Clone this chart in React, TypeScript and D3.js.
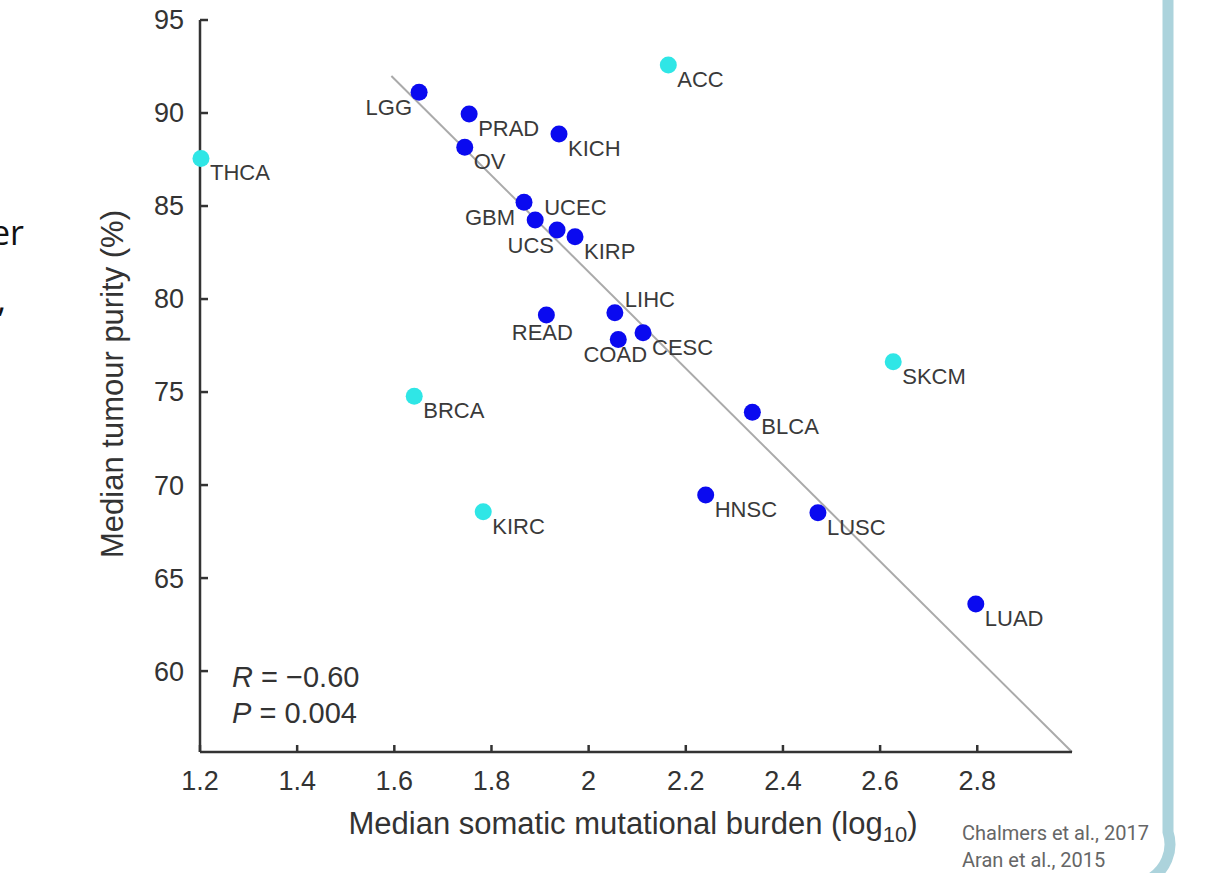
import React from 'react'
import * as d3 from 'd3'

// cancer types, median log10 mutational burden, median tumour purity
const types = ['THCA', 'LGG', 'PRAD', 'OV', 'KICH', 'ACC', 'GBM', 'UCEC', 'UCS', 'KIRP', 'READ', 'LIHC', 'COAD', 'CESC', 'BRCA', 'KIRC', 'BLCA', 'HNSC', 'LUSC', 'LUAD', 'SKCM']
const burden = [1.202, 1.651, 1.754, 1.745, 1.939, 2.164, 1.867, 1.89, 1.935, 1.972, 1.913, 2.054, 2.061, 2.112, 1.641, 1.783, 2.337, 2.241, 2.472, 2.797, 2.627]
const purity = [87.56, 91.11, 89.95, 88.16, 88.87, 92.58, 85.2, 84.25, 83.71, 83.35, 79.14, 79.26, 77.83, 78.19, 74.78, 68.56, 73.91, 69.46, 68.51, 63.6, 76.63]
// outliers drawn in cyan
const outliers = ['THCA', 'ACC', 'BRCA', 'KIRC', 'SKCM']

const xTicks = [1.2, 1.4, 1.6, 1.8, 2, 2.2, 2.4, 2.6, 2.8]
const yTicks = [60, 65, 70, 75, 80, 85, 90, 95]

// fitted line end points
const fitX = [1.594, 2.995]
const fitY = [91.99, 55.65]

const stats = [
  { k: 'R', v: '\u22120.60' },
  { k: 'P', v: '0.004' }
]
const refs = ['Chalmers et al., 2017', 'Aran et al., 2015']

// label placement: [dx, dy, anchor]
const place: Record<string, [number, number, string]> = {
  LGG: [-7, 23, 'end'],
  GBM: [-9, 23, 'end'],
  UCS: [-3, 23, 'end'],
  READ: [-4, 25, 'middle'],
  COAD: [-3, 23, 'middle'],
  UCEC: [9, -5, 'start'],
  LIHC: [10, -6, 'start']
}

const x = d3.scaleLinear().domain([1.2, 2.995]).range([200, 1072])
const y = d3.scaleLinear().domain([55.65, 95]).range([752, 20])

const font = '"Liberation Sans", Arial, Helvetica, sans-serif'
const axisColor = '#333'

export default function App() {
  const pts = types.map((t, i) => ({ t, bx: burden[i], py: purity[i] }))
  return (
    <svg width={1209} height={873} style={{ position: 'absolute', left: 0, top: 0 }} fontFamily={font}>
      <rect width={1209} height={873} fill="#fff" />
      {/* clipped slide text on the left */}
      <text x={24} y={245} textAnchor="end" fontFamily='"Open Sans", sans-serif' fontSize={34} fill="#111">er</text>
      <text x={6} y={312} textAnchor="end" fontFamily='"Open Sans", sans-serif' fontSize={34} fill="#111">,</text>

      {/* slide frame */}
      <path d="M1168,-10 V832 A40,40 0 0 1 1148,880" fill="none" stroke="#acd3dc" strokeWidth={11} />

      {/* fit line */}
      <line x1={x(fitX[0])} y1={y(fitY[0])} x2={x(fitX[1])} y2={y(fitY[1])} stroke="#aaa" strokeWidth={2} />

      {/* axes */}
      <line x1={x.range()[0]} x2={x.range()[1]} y1={y.range()[0]} y2={y.range()[0]} stroke={axisColor} strokeWidth={2.5} />
      <line x1={x.range()[0]} x2={x.range()[0]} y1={y.range()[0]} y2={y.range()[1]} stroke={axisColor} strokeWidth={2.5} />
      {xTicks.map(v => (
        <g key={v}>
          <line x1={x(v)} x2={x(v)} y1={y.range()[0]} y2={y.range()[0] - 7} stroke={axisColor} strokeWidth={2.5} />
          <text x={x(v)} y={790} textAnchor="middle" fontSize={27} fill="#333">{String(v)}</text>
        </g>
      ))}
      {yTicks.map(v => (
        <g key={v}>
          <line x1={x.range()[0]} x2={x.range()[0] + 8} y1={y(v)} y2={y(v)} stroke={axisColor} strokeWidth={2.5} />
          <text x={184} y={y(v)} dy="0.35em" textAnchor="end" fontSize={27} fill="#333">{v}</text>
        </g>
      ))}

      <text x={633} y={834} textAnchor="middle" fontSize={31} fill="#333">
        Median somatic mutational burden (log<tspan fontSize={22} dy={8}>10</tspan><tspan dy={-8}>)</tspan>
      </text>
      <text transform="translate(123,384) rotate(-90)" textAnchor="middle" fontSize={31} fill="#333">
        Median tumour purity (%)
      </text>

      {/* points and labels */}
      {pts.map(d => {
        const [dx, dy, anchor] = place[d.t] || [9, 22, 'start']
        return (
          <g key={d.t}>
            <circle cx={x(d.bx)} cy={y(d.py)} r={8.5} fill={outliers.includes(d.t) ? '#2fe6e6' : '#0a0af0'} />
            <text x={x(d.bx) + dx} y={y(d.py) + dy} textAnchor={anchor} fontSize={22} fill="#3a3a3a">{d.t}</text>
          </g>
        )
      })}

      {stats.map((s, i) => (
        <text key={s.k} x={232} y={687 + i * 36} fontSize={29} fill="#333">
          <tspan fontStyle="italic">{s.k}</tspan> = {s.v}
        </text>
      ))}

      {refs.map((r, i) => (
        <text key={r} x={962} y={840 + i * 27} fontSize={20} fontFamily='Roboto, "Noto Sans", sans-serif' fill="#666">{r}</text>
      ))}
    </svg>
  )
}
